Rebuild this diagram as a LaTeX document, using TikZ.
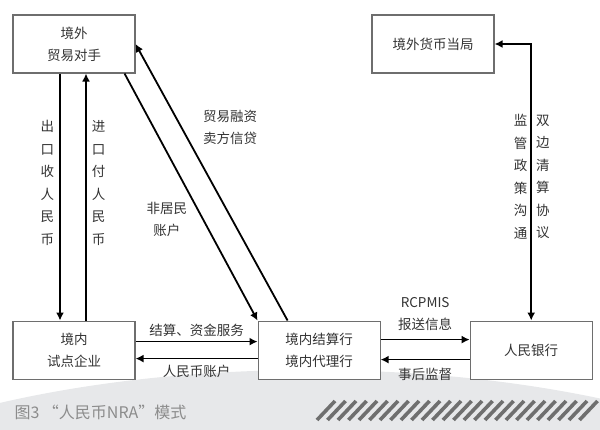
\documentclass[tikz,border=0pt]{standalone}
\usepackage{fontspec}
\setmainfont{Noto Sans CJK SC}
\usetikzlibrary{arrows.meta,positioning}
\definecolor{NraInk}{HTML}{333333}
\definecolor{NraFrame}{HTML}{6E6E6E}
\definecolor{NraShade}{HTML}{E7E8EA}
\definecolor{NraStripe}{HTML}{6F6F6F}
\definecolor{NraCaption}{HTML}{8C8C8C}
\tikzset{
  nrabox/.style={draw=NraFrame,line width=1.1pt,fill=white,align=center,minimum width=122pt,minimum height=58pt,text=NraInk,inner sep=0pt},
  flow/.style={-{Latex[length=8pt,width=8pt]},line width=1.8pt,draw=black},
  twoway/.style={flow,{Latex[length=8pt,width=8pt]}-{Latex[length=8pt,width=8pt]}},
  tag/.style={text=NraInk,align=center,inner sep=0pt},
  vtag/.style={tag,font=\fontsize{13.5}{22.5}\selectfont},
  stripe/.style={draw=NraStripe,line width=3.6pt}
}

\begin{document}
\begin{tikzpicture}[x=1pt,y=-1pt,font=\fontsize{13.5}{22}\selectfont]
  \useasboundingbox (0,0) rectangle (600,430);
  % grey ground and hatching
  \begin{scope}
    \clip (0,0) rectangle (600,430);
    \fill[NraShade] (310,600) ellipse [x radius=601,y radius=230];
  \end{scope}
  \foreach \k in {0,...,25}
    \draw[stripe] (317+\k*10.5,420) -- ++(18,-19);
  % boxes
  \node[nrabox] (partner) at (74,44) {境外\\贸易对手};
  \node[nrabox,below=247pt of partner] (firm) {境内\\试点企业};
  \node[nrabox,right=122pt of firm] (bank) {境内结算行\\境内代理行};
  \node[nrabox,right=89pt of bank] (pboc) {人民银行};
  \node[nrabox] (authority) at (433,44) {境外货币当局};
  % flows
  \draw[flow] ([xshift=-14pt]partner.south) -- node[vtag,pos=.443,left=5pt] {出\\口\\收\\人\\民\\币} ([xshift=-14pt]firm.north);
  \draw[flow] ([xshift=12pt]firm.north) -- node[vtag,pos=.557,right=5pt] {进\\口\\付\\人\\民\\币} ([xshift=12pt]partner.south);
  \draw[flow] ([xshift=-11pt]partner.south east) -- node[tag,pos=.59,left=15pt] {非居民\\账户} (bank.north west);
  \draw[flow] ([xshift=-31.5pt]bank.north) -- node[tag,pos=.7,right=21pt] {贸易融资\\卖方信贷} (partner.east);
  \draw[flow] ([yshift=8.5pt]firm.east) -- node[tag,above=4pt] {结算、资金服务} ([yshift=8.5pt]bank.west);
  \draw[flow] ([yshift=-8.5pt]bank.west) -- node[tag,below=6pt] {人民币账户} ([yshift=-8.5pt]firm.east);
  \draw[flow] ([yshift=10.5pt]bank.east) -- node[tag,above=8pt] {RCPMIS\\报送信息} ([yshift=10.5pt]pboc.west);
  \draw[flow] ([yshift=-9.5pt]pboc.west) -- node[tag,below=8pt] {事后监督} ([yshift=-9.5pt]bank.east);
  \draw[twoway] (pboc.north) |- node[vtag,pos=.26,left=3pt] {监\\管\\政\\策\\沟\\通} node[vtag,pos=.26,right=4pt] {双\\边\\清\\算\\协\\议} (authority.east);
  % caption
  \node[text=NraCaption,anchor=west,font=\fontsize{16}{19}\selectfont] (caption) at (11,412) {图3 “人民币NRA”模式};
\end{tikzpicture}
\end{document}
